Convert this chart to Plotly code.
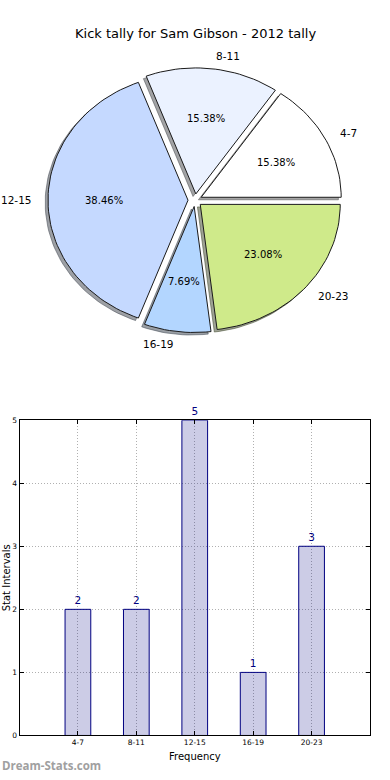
import math
import plotly.graph_objects as go

# ---------------- data ----------------
categories = ["4-7", "8-11", "12-15", "16-19", "20-23"]
counts = [2, 2, 5, 1, 3]
slice_colors = ["#FFFFFF", "#EBF2FF", "#C5D9FF", "#B3D6FF", "#CFEA8A"]
title_text = "Kick tally for Sam Gibson - 2012 tally"
y_ticks = [0, 1, 2, 3, 4, 5]

# ---------------- layout constants ----------------
W, H = 390, 780
EXPLODE = 0.05
CX, CY, RX, RY = 195.0, 198.5, 140.0, 127.5  # pie centre / radii in pixels
PIE_TOP_PX, PIE_BOT_PX = 20, 380
FONT = "DejaVu Sans"


def hex_rgb(h):
    h = h.lstrip("#")
    return tuple(int(h[i:i + 2], 16) for i in (0, 2, 4))


fig = go.Figure()

total = sum(counts)
angles = []
start = 0.0
for c in counts:
    sweep = 360.0 * c / total
    angles.append((start, start + sweep))
    start += sweep


def wedge(t1, t2, dx, dy):
    xs, ys = [dx], [dy]
    n = max(8, int((t2 - t1) / 2))
    for i in range(n + 1):
        t = math.radians(t1 + (t2 - t1) * i / n)
        xs.append(dx + math.cos(t))
        ys.append(dy + math.sin(t))
    xs.append(dx)
    ys.append(dy)
    return xs, ys


# shadows first
for (t1, t2), col in zip(angles, slice_colors):
    tm = math.radians((t1 + t2) / 2)
    dx, dy = EXPLODE * math.cos(tm), EXPLODE * math.sin(tm)
    xs, ys = wedge(t1, t2, dx - 0.02, dy - 0.02)
    r, g, b = hex_rgb(col)
    sc = f"rgba({int(r*0.3)},{int(g*0.3)},{int(b*0.3)},0.5)"
    fig.add_trace(go.Scatter(x=xs, y=ys, mode="lines", fill="toself", fillcolor=sc,
                             line=dict(color=sc, width=1), xaxis="x2", yaxis="y2",
                             hoverinfo="skip", showlegend=False))

annotations = []
for (t1, t2), col, cat, c in zip(angles, slice_colors, categories, counts):
    tm = math.radians((t1 + t2) / 2)
    dx, dy = EXPLODE * math.cos(tm), EXPLODE * math.sin(tm)
    xs, ys = wedge(t1, t2, dx, dy)
    fig.add_trace(go.Scatter(x=xs, y=ys, mode="lines", fill="toself", fillcolor=col,
                             line=dict(color="#1a1a1a", width=1), xaxis="x2", yaxis="y2",
                             name=cat, showlegend=False))
    lx = dx + 1.1 * math.cos(tm)
    ly = dy + 1.1 * math.sin(tm)
    annotations.append(dict(x=lx, y=ly, xref="x2", yref="y2", text=cat, showarrow=False,
                            xanchor="left" if math.cos(tm) > 0 else "right", yanchor="middle",
                            font=dict(family=FONT, size=10.5, color="black")))
    px = dx + 0.6 * math.cos(tm)
    py = dy + 0.6 * math.sin(tm)
    annotations.append(dict(x=px, y=py, xref="x2", yref="y2", text=f"{100*c/total:.2f}%",
                            showarrow=False, xanchor="center", yanchor="middle",
                            font=dict(family=FONT, size=10, color="black")))

# ---------------- bar chart ----------------
fig.add_trace(go.Bar(x=categories, y=counts, width=0.44,
                     marker=dict(color="rgba(0,0,128,0.2)", line=dict(color="#000080", width=1)),
                     text=[str(v) for v in counts], textposition="outside",
                     textfont=dict(family=FONT, size=10.5, color="#000080"),
                     cliponaxis=False, xaxis="x", yaxis="y", showlegend=False))

bar_left, bar_right, bar_top, bar_bot = 19.5, 370.0, 421.0, 740.0

annotations += [
    dict(x=CX / W, y=1 - 30 / H, xref="paper", yref="paper", text=title_text, showarrow=False,
         xanchor="center", yanchor="middle", font=dict(family=FONT, size=13, color="black")),
    dict(x=(bar_left + bar_right) / 2 / W, y=1 - 761 / H, xref="paper", yref="paper",
         text="Frequency", showarrow=False, xanchor="center", yanchor="middle",
         font=dict(family=FONT, size=10, color="black")),
    dict(x=6 / W, y=1 - 581 / H, xref="paper", yref="paper", text="Stat Intervals",
         textangle=-90, showarrow=False, xanchor="center", yanchor="middle",
         font=dict(family=FONT, size=10, color="black")),
    dict(x=0 / W, y=1 - 770 / H, xref="paper", yref="paper", text="<b>Dream-Stats.com</b>",
         showarrow=False, xanchor="left", yanchor="middle",
         font=dict(family="Open Sans", size=11.5, color="#a0a0a0")),
]

pie_xr = [(0 - CX) / RX, (W - CX) / RX]
pie_yr = [(CY - PIE_BOT_PX) / RY, (CY - PIE_TOP_PX) / RY]

grid = dict(showgrid=True, gridcolor="#b0b0b0", griddash="1px,2px", gridwidth=1)
fig.update_layout(
    width=W, height=H, margin=dict(l=0, r=0, t=0, b=0),
    paper_bgcolor="white", plot_bgcolor="white",
    annotations=annotations,
    xaxis=dict(domain=[bar_left / W, bar_right / W], range=[-1, 5], type="category",
               showline=True, mirror="ticks", linecolor="black", linewidth=1,
               ticks="inside", ticklen=4, tickcolor="black",
               tickfont=dict(family=FONT, size=7.5, color="black"), zeroline=False, **grid),
    yaxis=dict(domain=[1 - bar_bot / H, 1 - bar_top / H], range=[0, 5], tickvals=y_ticks,
               showline=True, mirror="ticks", linecolor="black", linewidth=1,
               ticks="inside", ticklen=4, tickcolor="black",
               tickfont=dict(family=FONT, size=7.5, color="black"), zeroline=False, **grid),
    xaxis2=dict(domain=[0, 1], range=pie_xr, visible=False, fixedrange=True),
    yaxis2=dict(domain=[1 - PIE_BOT_PX / H, 1 - PIE_TOP_PX / H], range=pie_yr,
                visible=False, fixedrange=True, anchor="x2"),
)
fig.update_layout(xaxis2_anchor="y2")

fig.write_html("out.html", config={"displayModeBar": False},
               post_script="document.body.style.margin='0';")
